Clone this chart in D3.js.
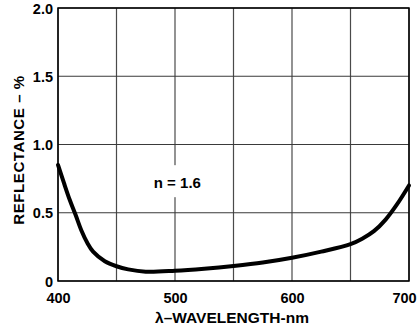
<!DOCTYPE html>
<html><head><meta charset="utf-8">
<script src="https://cdn.jsdelivr.net/npm/d3@7"></script>
<style>body{margin:0;background:#fff}svg{display:block}text{font-family:"Liberation Sans",Arial,Helvetica,sans-serif;font-weight:bold;fill:#000}</style>
</head><body>
<script>
const wavelengths = [400,405,410,415,420,425,430,440,450,460,475,500,525,550,575,600,625,650,660,670,680,690,700];
const reflectance = [0.85,0.72,0.595,0.485,0.37,0.28,0.215,0.145,0.108,0.085,0.068,0.075,0.09,0.11,0.135,0.17,0.215,0.27,0.31,0.365,0.45,0.565,0.70];
const xTicks = [400,500,600,700];
const xGrid = [400,450,500,550,600,650,700];
const yTicks = [0,0.5,1.0,1.5,2.0];
const yTickLabels = ["0","0.5","1.0","1.5","2.0"];
const annotation = "n = 1.6";
const xTitle = "λ–WAVELENGTH-nm";
const yTitle = "REFLECTANCE – %";

const W=419,H=329;
const m={l:58,r:10,t:8,b:48};
const svg=d3.select("body").append("svg").attr("width",W).attr("height",H);
const x=d3.scaleLinear().domain([400,700]).range([m.l,W-m.r]);
const y=d3.scaleLinear().domain([0,2]).range([H-m.b,m.t]);

const g=svg.append("g");
g.selectAll("line.vg").data(xGrid).join("line").attr("class","vg")
 .attr("x1",d=>x(d)).attr("x2",d=>x(d)).attr("y1",y(0)).attr("y2",y(2))
 .attr("stroke","#4a4a4a").attr("stroke-width",1.2);
g.selectAll("line.hg").data(yTicks).join("line").attr("class","hg")
 .attr("x1",x(400)).attr("x2",x(700)).attr("y1",d=>y(d)).attr("y2",d=>y(d))
 .attr("stroke","#3a3a3a").attr("stroke-width",1.2);
svg.append("rect").attr("x",x(400)).attr("y",y(2)).attr("width",x(700)-x(400)).attr("height",y(0)-y(2))
 .attr("fill","none").attr("stroke","#000").attr("stroke-width",1.5);

const ax=x(502), ay=y(0.68);
svg.append("rect").attr("x",ax-32).attr("y",ay-23).attr("width",64).attr("height",32).attr("fill","#fff");
svg.append("text").attr("x",ax).attr("y",ay).attr("text-anchor","middle").attr("font-size",15).text(annotation);

const line=d3.line().x((d,i)=>x(wavelengths[i])).y(d=>y(d)).curve(d3.curveCatmullRom.alpha(0.5));
svg.append("path").datum(reflectance).attr("d",line).attr("fill","none").attr("stroke","#000").attr("stroke-width",4).attr("stroke-linecap","round");

const xa=d3.axisBottom(x).tickValues(xTicks).tickSize(0).tickPadding(0).tickFormat(d3.format("d"));
const xg=svg.append("g").attr("transform",`translate(0,${y(0)})`).call(xa);
xg.select(".domain").remove();
xg.selectAll("text").attr("font-size",14.5).attr("dy",null).attr("y",22)
  .attr("dx",d=>d===700?-5:0);
const ya=d3.axisLeft(y).tickValues(yTicks).tickSize(0).tickPadding(0).tickFormat((d,i)=>yTickLabels[i]);
const yg=svg.append("g").attr("transform",`translate(${x(400)-5},0)`).call(ya);
yg.select(".domain").remove();
yg.selectAll("text").attr("font-size",14.5).attr("dy","0.36em").attr("x",0);
svg.selectAll(".tick text").attr("fill","#000");
xg.attr("font-family",null); yg.attr("font-family",null);

svg.append("text").attr("x",232).attr("y",323).attr("text-anchor","middle").attr("font-size",15.5).text(xTitle);
svg.append("text").attr("transform","translate(24,150) rotate(-90)").attr("text-anchor","middle").attr("font-size",15).attr("letter-spacing",0.6).text(yTitle);
</script>
</body></html>
